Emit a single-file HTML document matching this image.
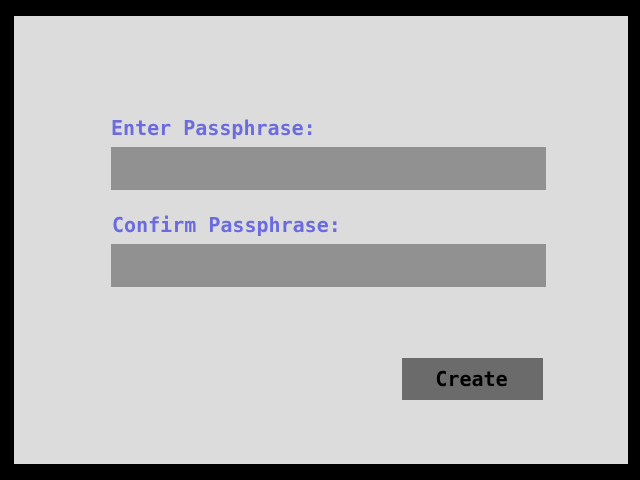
<!DOCTYPE html>
<html><head><style>
html,body{margin:0;padding:0;background:#000;width:640px;height:480px;overflow:hidden}
.bg{position:absolute;left:14px;top:16px;width:614px;height:448px;background:#dcdcdc}
.lbl{position:absolute;font-family:"DejaVu Sans Mono",monospace;font-weight:bold;font-size:20px;color:#6b6bdf;line-height:20px}
.inp{position:absolute;left:111px;width:435px;height:43px;background:#919191}
.btn{position:absolute;left:402px;top:358px;width:141px;height:42px;background:#6b6b6b;font-family:"DejaVu Sans Mono",monospace;font-weight:bold;font-size:20px;color:#000;text-align:center;line-height:42px}
</style></head><body>
<div class="bg"></div>
<div class="lbl" style="left:111px;top:118px">Enter Passphrase:</div>
<div class="inp" style="top:147px"></div>
<div class="lbl" style="left:112px;top:215px">Confirm Passphrase:</div>
<div class="inp" style="top:244px"></div>
<div class="btn" style="padding-right:2px;box-sizing:border-box">Create</div>
</body></html>
